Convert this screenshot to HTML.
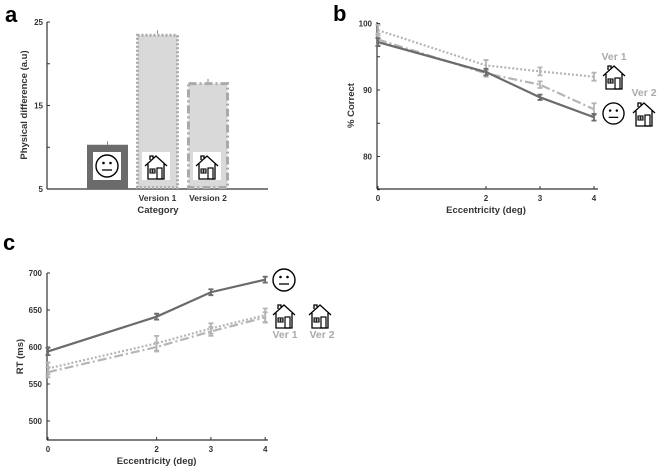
<!DOCTYPE html>
<html><head><meta charset="utf-8"><style>
body{margin:0;background:#fff;width:658px;height:470px;overflow:hidden}
svg{display:block;font-family:"Liberation Sans",sans-serif}
text{font-weight:bold}
</style></head><body>
<svg id="fig" width="658" height="470" viewBox="0 0 658 470"></svg>
<script>
// Panel a data
const barCats = ["Face","Version 1","Version 2"];
const barVals = [10.3, 23.6, 17.8];
const barErr = [0.4, 0.4, 0.4];
const aTicks = [5, 15, 25];
// Panel b data
const eccs = [0, 2, 3, 4];
const accFace = [97.2, 92.7, 88.9, 85.9];
const accVer1 = [99.0, 93.7, 92.8, 92.0];
const accVer2 = [97.6, 92.5, 90.8, 87.1];
const accErrFace = [0.6, 0.5, 0.4, 0.5];
const accErrVer1 = [0.8, 0.8, 0.6, 0.6];
const accErrVer2 = [0.9, 0.5, 0.5, 0.9];
const bTicks = [80, 90, 100];
// Panel c data
const rtFace = [594, 641, 674, 691];
const rtVer1 = [571, 605, 625, 643];
const rtVer2 = [566, 600, 621, 640];
const rtErrFace = [5, 4, 4, 4];
const rtErrVer1 = [8, 10, 7, 9];
const rtErrVer2 = [7, 6, 6, 7];
const cTicks = [500, 550, 600, 650, 700];

const NS="http://www.w3.org/2000/svg";
const svg=document.getElementById('fig');
function mk(tag,attrs,parent){const e=document.createElementNS(NS,tag);for(const k in attrs)e.setAttribute(k,attrs[k]);(parent||svg).appendChild(e);return e;}
function txt(s,x,y,size,fill,anchor,parent){const t=mk('text',{x:x,y:y,'font-size':size,fill:fill,'text-anchor':anchor||'middle'},parent);t.textContent=s;return t;}
const DARK="#6b6b6b", LIGHT="#b5b5b5", AX="#333";

function face(x,y,s,bg){const g=mk('g',{transform:`translate(${x},${y}) scale(${s/24})`});


if(bg)mk('rect',{x:-2,y:-2,width:28,height:28,fill:'#fff'},g);
mk('circle',{cx:12,cy:12,r:11,fill:'#fff',stroke:'#000','stroke-width':1.4},g);
mk('circle',{cx:8.5,cy:9,r:1.3,fill:'#000'},g);mk('circle',{cx:15.5,cy:9,r:1.3,fill:'#000'},g);
mk('line',{x1:7,y1:16,x2:17,y2:16,stroke:'#000','stroke-width':1.3},g);return g;}
function house(x,y,s,bg){const g=mk('g',{transform:`translate(${x},${y}) scale(${s/24})`});


if(bg)mk('rect',{x:-2,y:-2,width:28,height:28,fill:'#fff'},g);
mk('path',{d:'M1,12 L12,2 L23,12 M4,10 V25 H20 V10 M6,6 V2 H9 V4',fill:'none',stroke:'#000','stroke-width':1.3},g);
mk('rect',{x:6,y:15,width:5,height:4,fill:'none',stroke:'#000','stroke-width':1.1},g);
mk('path',{d:'M8.5,15V19M6,17H11',stroke:'#000','stroke-width':0.8},g);
mk('rect',{x:13,y:14,width:5,height:11,fill:'none',stroke:'#000','stroke-width':1.2},g);return g;}

// ---------- Panel a ----------
const aY=v=>189-(v-5)*(167/20);
txt('a',5,22,22,'#000','start');
mk('line',{x1:47,y1:22,x2:47,y2:189,stroke:AX,'stroke-width':1.2});
mk('line',{x1:47,y1:189,x2:268,y2:189,stroke:AX,'stroke-width':1.2});
[5,10,15,20,25].forEach(v=>mk('line',{x1:47,y1:aY(v),x2:50,y2:aY(v),stroke:AX}));
aTicks.forEach(v=>{const t=txt(String(v),43,aY(v)+3,8,'#333','end');});
const at=txt('Physical difference (a.u)',0,0,9.5,'#333');at.setAttribute('transform','translate(27,105) rotate(-90)');
const barX=[87,136,187], barW=[41,43,42];
barVals.forEach((v,i)=>{
  const x=barX[i],w=barW[i],y=aY(v);
  let r;
  if(i===0) r=mk('rect',{x:x,y:y,width:w,height:189-y,fill:DARK});
  else r=mk('rect',{x:x+1.5,y:y+1.5,width:w-3,height:189-y-3,fill:'#d9d9d9',stroke:'#aaa','stroke-width':3,'stroke-dasharray':i===1?'2,2':'8,3,2,3'});
  
  
  mk('line',{x1:x+w/2,y1:y,x2:x+w/2,y2:aY(v+barErr[i]),stroke:'#888'});
  if(i===0) face(x+8,154,24,true); else house(x+8,154,24,true);
  if(i>0){const t=txt(barCats[i],x+w/2,201,8.5,'#333');}
});
txt('Category',158,213,9.5,'#333');

// ---------- line panel helper ----------
function linePanel(p){
  const X=d=>p.x0+d*p.dx, Y=v=>p.yBase-(v-p.vBase)*p.k;
  mk('line',{x1:p.axX,y1:p.yTop,x2:p.axX,y2:p.yBot,stroke:AX,'stroke-width':1.2});
  mk('line',{x1:p.axX,y1:p.yBot,x2:p.xEnd,y2:p.yBot,stroke:AX,'stroke-width':1.2});
  p.minor.forEach(v=>mk('line',{x1:p.axX,y1:Y(v),x2:p.axX+3,y2:Y(v),stroke:AX}));
  p.ticks.forEach(v=>{const t=txt(String(v),p.axX-5,Y(v)+3,8,'#333','end');});
  eccs.forEach(d=>{mk('line',{x1:X(d),y1:p.yBot,x2:X(d),y2:p.yBot-3,stroke:AX});const t=txt(String(d),X(d),p.yBot+12,8,'#333');});
  txt('Eccentricity (deg)',X(2),p.yBot+24,9.5,'#333');
  const yt=txt(p.ytitle,0,0,9.5,'#333');yt.setAttribute('transform',`translate(${p.ytx},${(p.yTop+p.yBot)/2}) rotate(-90)`);
  p.series.forEach(s=>{
    const pl=mk('polyline',{points:s.vals.map((v,i)=>X(eccs[i])+','+Y(v)).join(' '),fill:'none',stroke:s.c,'stroke-width':2.2,'stroke-dasharray':s.dash});
    
    
    s.vals.forEach((v,i)=>{const x=X(eccs[i]),e=s.err[i];
      const eb=mk('path',{d:`M${x},${Y(v-e)}V${Y(v+e)}M${x-2.5},${Y(v-e)}H${x+2.5}M${x-2.5},${Y(v+e)}H${x+2.5}`,stroke:s.c,'stroke-width':1.8,fill:'none'});
      });
  });
}
// ---------- Panel b ----------
txt('b',333,21,22,'#000','start');
linePanel({id:'b',x0:378,dx:54,axX:377,xEnd:598,yTop:22,yBot:189,yBase:90,vBase:90,k:6.65,
  ticks:bTicks,minor:[75,80,85,90,95,100],ytitle:'% Correct',ytx:354,
  series:[{n:'ver1',vals:accVer1,err:accErrVer1,c:LIGHT,dash:'2,2'},
          {n:'ver2',vals:accVer2,err:accErrVer2,c:LIGHT,dash:'9,3,2,3'},
          {n:'face',vals:accFace,err:accErrFace,c:DARK,dash:''}]});
txt('Ver 1',614,60,10.5,'#aaa');
house(602,64,24);
txt('Ver 2',644,96,10.5,'#aaa');
face(602,102,23);house(632,101,24);
// ---------- Panel c ----------
txt('c',3,250,22,'#000','start');
linePanel({id:'c',x0:48,dx:54.3,axX:47,xEnd:268,yTop:273,yBot:440,yBase:347,vBase:600,k:0.74,
  ticks:cTicks,minor:[500,550,600,650,700],ytitle:'RT (ms)',ytx:23,
  series:[{n:'ver1',vals:rtVer1,err:rtErrVer1,c:LIGHT,dash:'2,2'},
          {n:'ver2',vals:rtVer2,err:rtErrVer2,c:LIGHT,dash:'9,3,2,3'},
          {n:'face',vals:rtFace,err:rtErrFace,c:DARK,dash:''}]});
face(272,268,24);
house(272,303,24);house(308,303,24);
txt('Ver 1',285,338,10.5,'#aaa');
txt('Ver 2',322,338,10.5,'#aaa');
</script>
</body></html>
